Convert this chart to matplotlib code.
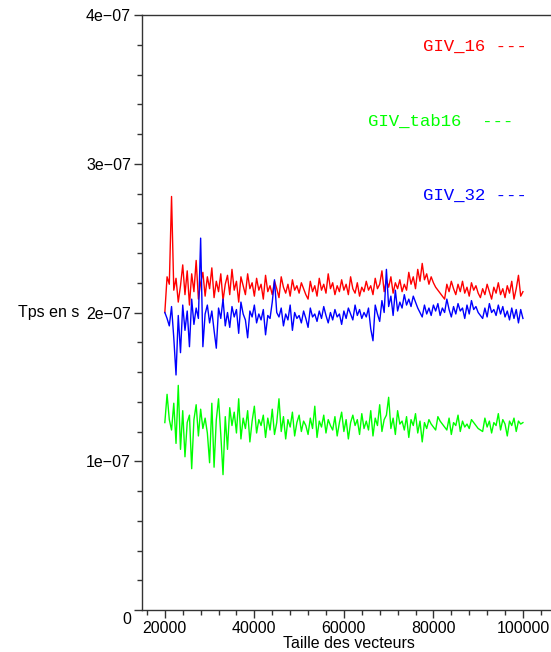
import matplotlib
matplotlib.use("Agg")
import matplotlib.pyplot as plt
import matplotlib.transforms as mtransforms
from matplotlib.ticker import MultipleLocator, FixedLocator
import numpy as np

# x: vector sizes
x_start, x_step, n_pts = 20000, 500, 161
sizes = [x_start + x_step * i for i in range(n_pts)]

# times in ns (converted to s below)
giv16_ns = [
    200, 224, 219, 278, 215, 223, 207, 218, 232, 212, 228, 205, 226, 214, 235, 209, 220, 227, 211, 224,
    216, 230, 210, 221, 214, 226, 208, 219, 225, 212, 229, 215, 221, 207, 224, 218, 212, 226, 216, 220,
    211, 223, 215, 219, 209, 225, 214, 218, 212, 221, 216, 210, 224, 217, 213, 219, 211, 222, 215, 218,
    213, 220, 216, 212, 209, 221, 214, 218, 211, 223, 215, 219, 213, 226, 216, 220, 212, 218, 214, 222,
    215, 219, 212, 224, 216, 213, 220, 211, 217, 214, 221, 215, 218, 212, 223, 216, 219, 228, 214, 222,
    217, 224, 213, 220, 216, 222, 214, 219, 215, 227, 219, 224, 216, 229, 221, 233, 222, 226, 219, 224,
    220, 217, 215, 213, 211, 209, 219, 214, 221, 216, 212, 219, 214, 221, 213, 217, 211, 220, 215, 218,
    213, 210, 216, 212, 219, 214, 209, 217, 213, 220, 212, 216, 210, 218, 213, 221, 209, 216, 225, 211,
    214,
]
giv32_ns = [
    200, 196, 191, 204, 183, 158, 198, 173, 205, 188, 201, 177, 209, 192, 203, 196, 250, 177, 199, 205,
    193, 201, 188, 176, 203, 196, 209, 191, 200, 190, 204, 197, 202, 186, 207, 199, 195, 183, 201, 197,
    205, 193, 199, 195, 202, 185, 198, 196, 207, 222, 200, 197, 203, 191, 199, 195, 205, 188, 200, 196,
    198, 193, 201, 196, 190, 203, 197, 199, 194, 201, 196, 204, 198, 193, 200, 195, 202, 197, 199, 192,
    201, 196, 203, 199, 195, 205, 198, 202, 196, 200, 197, 203, 189, 181, 205, 199, 194, 208, 200, 229,
    204, 211, 198, 215, 201, 207, 203, 212, 205, 209, 204, 211, 207, 203, 200, 197, 205, 199, 203, 198,
    205, 201, 206, 198, 203, 200, 209, 202, 197, 204, 199, 206, 201, 203, 196, 205, 199, 208, 202, 204,
    200, 198, 196, 203, 197, 206, 200, 202, 198, 205, 199, 204, 197, 201, 195, 203, 196, 202, 193, 202,
    196,
]
givtab16_ns = [
    126, 145, 128, 121, 139, 112, 151, 108, 134, 103, 126, 131, 95, 128, 138, 117, 135, 122, 129, 119,
    99, 139, 96, 128, 142, 118, 91, 130, 108, 136, 124, 133, 119, 142, 115, 129, 122, 134, 113, 127,
    137, 119, 128, 124, 131, 116, 129, 121, 135, 118, 126, 142, 120, 130, 115, 128, 123, 133, 117, 126,
    131, 120, 127, 124, 118, 129, 122, 137, 116, 127, 123, 131, 119, 128, 124, 121, 130, 117, 126, 133,
    120, 128, 115, 126, 131, 124, 128, 118, 132, 122, 127, 121, 134, 117, 129, 124, 138, 120, 128, 131,
    143, 122, 129, 118, 134, 125, 127, 121, 130, 116, 128, 124, 132, 119, 127, 113, 126, 122, 128, 125,
    123, 121, 130, 127, 125, 123, 121, 129, 118, 126, 124, 131, 120, 127, 123, 125, 122, 128, 126, 124,
    122, 121, 120, 129, 123, 127, 119, 126, 124, 132, 121, 128, 125, 117, 127, 124, 129, 120, 127, 125,
    126,
]

series_names = ["GIV_16", "GIV_tab16", "GIV_32"]
series_colors = ["#ff0000", "#00ff00", "#0000ff"]

ytick_vals = [0, 1e-7, 2e-7, 3e-7, 4e-7]
ytick_labels = ["0", "1e\u221207", "2e\u221207", "3e\u221207", "4e\u221207"]
xtick_vals = [20000, 40000, 60000, 80000, 100000]
xtick_labels = ["20000", "40000", "60000", "80000", "100000"]

plt.rcParams["font.family"] = ["Liberation Sans", "DejaVu Sans"]

fig = plt.figure(figsize=(5.51, 6.52), dpi=100)
ax = fig.add_axes([142 / 551, 1 - 610 / 652, 1 - 142 / 551 + 0.01, (610 - 15) / 652])

xs = np.array(sizes)
ax.plot(xs, np.array(giv16_ns) * 1e-9, color=series_colors[0], lw=1.0)
ax.plot(xs, np.array(givtab16_ns) * 1e-9, color=series_colors[1], lw=1.0)
ax.plot(xs, np.array(giv32_ns) * 1e-9, color=series_colors[2], lw=1.0)

ax.set_xlim(14900, 107500)
ax.set_ylim(0, 4e-7)

ax.spines["right"].set_visible(False)
for s in ["left", "bottom", "top"]:
    ax.spines[s].set_color("#333333")
    ax.spines[s].set_linewidth(1.0)

ax.yaxis.set_major_locator(FixedLocator(ytick_vals))
ax.set_yticklabels(ytick_labels)
ax.yaxis.set_minor_locator(MultipleLocator(2e-8))
ax.xaxis.set_major_locator(FixedLocator(xtick_vals))
ax.set_xticklabels(xtick_labels)
ax.xaxis.set_minor_locator(MultipleLocator(4000))

ax.tick_params(axis="both", which="major", direction="out", length=6, width=1.0,
               color="#333333", labelsize=11.5, pad=2)
ax.tick_params(axis="both", which="minor", direction="out", length=3.5, width=1.0,
               color="#333333")
ax.tick_params(axis="x", which="both", top=False)

# shift the "0" y label down like the reference
fig.canvas.draw()
for lab in ax.get_yticklabels():
    if lab.get_text() == "0":
        lab.set_transform(lab.get_transform() +
                          mtransforms.ScaledTranslation(0, -8 / 100, fig.dpi_scale_trans))

ax.set_xlabel("Taille des vecteurs", fontsize=11.5, labelpad=0)
fig.text(18 / 551, 1 - 313 / 652, "Tps en s", fontsize=11.5, va="center", ha="left")

legend_pos = [(423, 46, "GIV_16 ---"), (368, 121, "GIV_tab16  ---"), (423, 195, "GIV_32 ---")]
for (px, py, txt), col in zip(legend_pos, series_colors):
    fig.text(px / 551, 1 - py / 652, txt, color=col, fontsize=12.5,
             family=["Liberation Mono", "DejaVu Sans Mono"], va="center", ha="left")

fig.savefig("out.png", dpi=100)
